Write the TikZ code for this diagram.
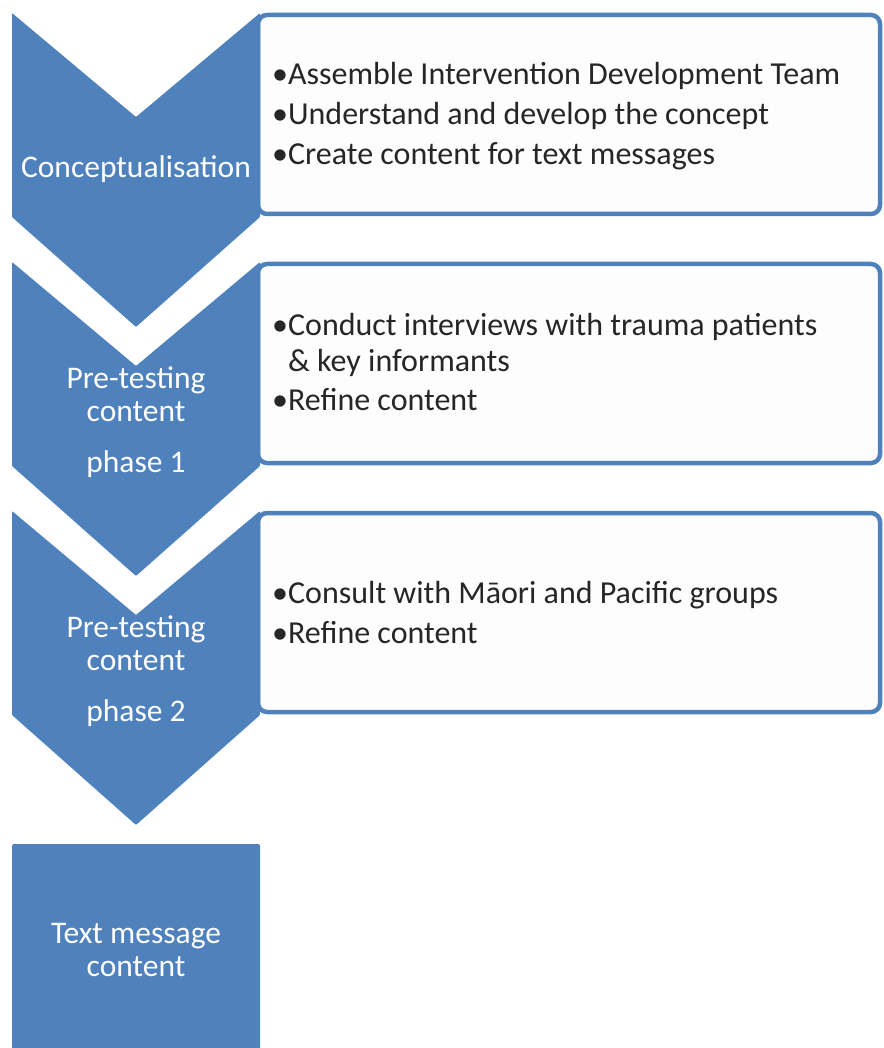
\documentclass[tikz,border=0pt]{standalone}
\usepackage{fontspec}
\setmainfont{Carlito}
\usetikzlibrary{positioning}
\definecolor{stageblue}{HTML}{4F81BD}
\definecolor{panelfill}{HTML}{FDFDFD}

\begin{document}
\begin{tikzpicture}[x=1pt, y=-1pt,
  panel/.style={draw=stageblue, line width=4.5pt, rounded corners=9pt, fill=panelfill},
  chev/.style={fill=stageblue, rounded corners=1pt},
  stagelbl/.style={text=white, align=center, inner sep=0pt, anchor=base,
    font=\fontsize{31.5}{33}\selectfont},
  itemtxt/.style={align=left, inner sep=0pt, anchor=base west, text=black!85,
    font=\fontsize{32}{36}\selectfont}]
\useasboundingbox (0,0) rectangle (883,1048);
% detail panels
\draw[panel] (258,15) rectangle (880,214);
\draw[panel] (258,264) rectangle (880,463);
\draw[panel] (258,513) rectangle (880,712);
% chevrons
\foreach \t in {13,262,511}
  \fill[chev] (12,\t) -- (136,\t+104) -- (260,\t) -- (260,\t+204) -- (136,\t+314) -- (12,\t+204) -- cycle;
\fill[stageblue, rounded corners=2pt] (12,844) rectangle (260,1060);
% stage labels (anchored at the last line)
\node[stagelbl] (concept) at (136,178) {Conceptualisation};
\node[stagelbl] (pretest1) at (136,472) {Pre-testing\\content\\[18pt]phase 1};
\node[stagelbl] (pretest2) at (136,721) {Pre-testing\\content\\[18pt]phase 2};
\node[stagelbl] (msgcontent) at (136,976) {Text message\\content};
% panel texts
\node[itemtxt] (conceptitems) at (272,165) {•Assemble Intervention Development Team\\[4pt]•Understand and develop the concept\\[4pt]•Create content for text messages};
\node[itemtxt] (pretest1items) at (272,410) {•Conduct interviews with trauma patients\\\phantom{•}\& key informants\\[3pt]•Refine content};
\node[itemtxt] (pretest2items) at (272,643) {•Consult with Māori and Pacific groups\\[4pt]•Refine content};
\end{tikzpicture}
\end{document}
